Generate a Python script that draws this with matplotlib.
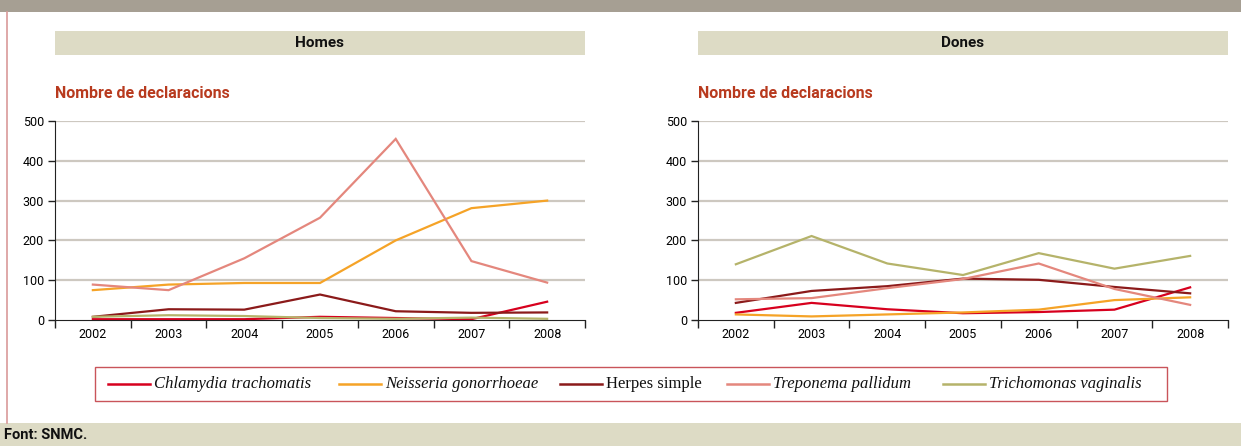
import matplotlib
matplotlib.use("Agg")
import matplotlib.pyplot as plt
from matplotlib.patches import Rectangle
from matplotlib.lines import Line2D

years = ["2002", "2003", "2004", "2005", "2006", "2007", "2008"]
series_names = ["Chlamydia trachomatis", "Neisseria gonorrhoeae", "Herpes simple",
                "Treponema pallidum", "Trichomonas vaginalis"]
italic_flags = [True, True, False, True, True]
colors = ["#d7001e", "#f5a327", "#8b1a1a", "#e4877d", "#b5b36a"]

homes_chlamydia = [2, 2, 2, 8, 5, 2, 46]
homes_neisseria = [75, 89, 93, 93, 200, 281, 300]
homes_herpes = [8, 27, 26, 64, 22, 18, 19]
homes_treponema = [89, 75, 155, 257, 455, 148, 94]
homes_trichomonas = [8, 12, 10, 5, 3, 6, 3]

dones_chlamydia = [18, 43, 27, 17, 20, 26, 82]
dones_neisseria = [14, 9, 14, 19, 26, 50, 57]
dones_herpes = [43, 73, 85, 104, 101, 83, 67]
dones_treponema = [52, 55, 80, 103, 142, 78, 38]
dones_trichomonas = [140, 211, 142, 113, 168, 129, 161]

panel_titles = ["Homes", "Dones"]
ylabel_text = "Nombre de declaracions"
source_text = "Font: SNMC."
yticks = [0, 100, 200, 300, 400, 500]

homes = [homes_chlamydia, homes_neisseria, homes_herpes, homes_treponema, homes_trichomonas]
dones = [dones_chlamydia, dones_neisseria, dones_herpes, dones_treponema, dones_trichomonas]

W, H = 1241, 446
fig = plt.figure(figsize=(W / 100, H / 100), dpi=100)
fig.patch.set_facecolor("white")

def fx(px):
    return px / W

def fy(py):
    return 1 - py / H

# top gray band
fig.add_artist(Rectangle((0, fy(12)), 1, 12 / H, transform=fig.transFigure,
                         facecolor="#a69f93", edgecolor="none"))
# left pink border line
fig.add_artist(Line2D([fx(7), fx(7)], [fy(12), fy(423)], transform=fig.transFigure,
                      color="#d99a9a", lw=1.2))
# bottom source band
fig.add_artist(Rectangle((0, 0), 1, 23 / H, transform=fig.transFigure,
                         facecolor="#dddbc5", edgecolor="none"))
fig.text(fx(4), fy(435), source_text, fontsize=10.5, fontfamily="Roboto",
         fontweight="bold", va="center", ha="left", color="#111111")

x = list(range(len(years)))
panels = [(55, homes), (698, dones)]
axw = 530
for (left, data), title in zip(panels, panel_titles):
    # header box
    fig.add_artist(Rectangle((fx(left), fy(55)), axw / W, 24 / H, transform=fig.transFigure,
                             facecolor="#dddbc5", edgecolor="none"))
    fig.text(fx(left + axw / 2), fy(43), title, fontsize=11, fontfamily="Roboto",
             fontweight="bold", ha="center", va="center", color="#111111")
    fig.text(fx(left), fy(93), ylabel_text, fontsize=11.5, fontfamily="Roboto",
             fontweight="bold", ha="left", va="center", color="#b83a1e")

    ax = fig.add_axes([fx(left), fy(320), axw / W, (320 - 121) / H])
    for vals, c in zip(data, colors):
        ax.plot(x, vals, color=c, lw=1.6, solid_joinstyle="miter")
    ax.set_xlim(-0.5, len(years) - 0.5)
    ax.set_ylim(0, 500)
    ax.set_yticks(yticks)
    ax.set_yticklabels([str(v) for v in yticks], fontsize=9, fontfamily="Roboto")
    ax.set_xticks([i - 0.5 for i in range(len(years) + 1)])
    ax.set_xticklabels([])
    ax.set_xticks(x, minor=True)
    ax.set_xticklabels(years, minor=True, fontsize=9, fontfamily="Roboto")
    ax.tick_params(axis="x", which="minor", length=0, pad=6)
    ax.tick_params(axis="x", which="major", length=6, width=1, color="#222222")
    ax.tick_params(axis="y", length=5, width=1, color="#222222", pad=3)
    for v in yticks[1:]:
        ax.axhline(v, color="#cdc8c0", lw=1.6, zorder=0)
    for s in ["top", "right"]:
        ax.spines[s].set_visible(False)
    ax.spines["left"].set_color("#222222")
    ax.spines["bottom"].set_color("#222222")
    ax.set_facecolor("none")

# legend box
lx0, lx1, ly0, ly1 = 95, 1167, 367, 401
fig.add_artist(Rectangle((fx(lx0), fy(ly1)), (lx1 - lx0) / W, (ly1 - ly0) / H,
                         transform=fig.transFigure, facecolor="white",
                         edgecolor="#c9545a", lw=1.0))
entry_x = [108, 339, 560, 727, 943]
ymid = fy(384)
for ex, name, c, it in zip(entry_x, series_names, colors, italic_flags):
    fig.add_artist(Line2D([fx(ex), fx(ex + 42)], [ymid, ymid], transform=fig.transFigure,
                          color=c, lw=1.8))
    fig.text(fx(ex + 46), ymid, name, fontsize=12, fontfamily="Liberation Serif",
             fontstyle="italic" if it else "normal", ha="left", va="center",
             color="#111111")

fig.savefig("out.png", dpi=100)
